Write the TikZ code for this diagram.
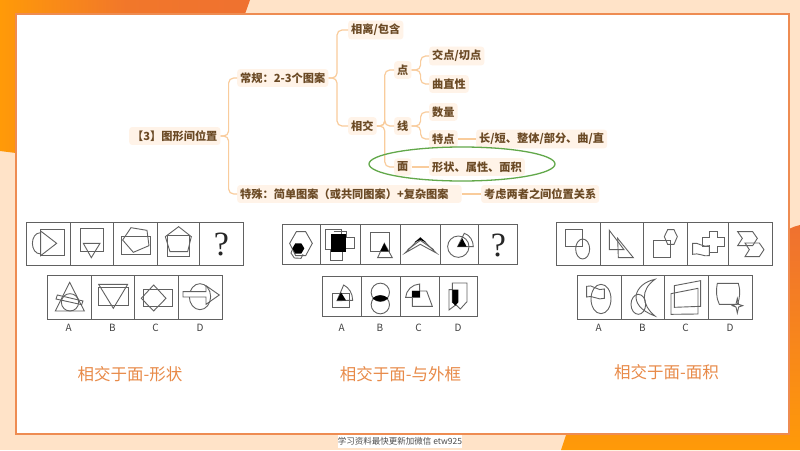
\documentclass[tikz,border=0pt]{standalone}
\usepackage{fontspec}
\setmainfont{Noto Sans CJK SC}
\newfontfamily\figfont{Liberation Serif}
\usetikzlibrary{positioning}
\definecolor{peach}{HTML}{FFE3C8}
\definecolor{deeporange}{HTML}{EF7130}
\definecolor{brightorange}{HTML}{FF9A08}
\definecolor{rimorange}{HTML}{EE8C52}
\definecolor{mapink}{HTML}{6B4A25}
\definecolor{mapfill}{HTML}{FFF3E8}
\definecolor{mapline}{HTML}{F9CC9C}
\definecolor{ringgreen}{HTML}{62A84A}
\definecolor{captink}{HTML}{E88A48}
\tikzset{
  mapbox/.style={anchor=west,fill=mapfill,rounded corners=3pt,inner xsep=3pt,inner ysep=3.5pt,
    text=mapink,font=\fontsize{11.2}{13}\selectfont\bfseries},
  branch/.style={draw=mapline,line width=1.2pt,rounded corners=5pt},
  figline/.style={draw=black!62,line width=0.9pt},
  optlabel/.style={text=black!75,font=\fontsize{10}{12}\selectfont},
  capt/.style={text=captink,font=\fontsize{16.5}{18}\selectfont},
}
\begin{document}
\begin{tikzpicture}[x=1pt,y=-1pt]
\useasboundingbox (0,0) rectangle (800,450);

% frame
\fill[peach] (0,0) rectangle (800,450);
\shade[left color=brightorange,right color=deeporange,middle color=deeporange!85!brightorange]
  (0,0) -- (250,0) -- (245,14) -- (16,14) -- (16,153) -- (0,151) -- cycle;
\shade[top color=deeporange,bottom color=brightorange]
  (561,450) -- (566,435) -- (789,435) -- (789,229) .. controls (793,227) .. (800,225) -- (800,450) -- cycle;
\draw[rimorange,line width=1.5pt,fill=white] (16,14) rectangle (789,434);

% mind map
\node[mapbox] (root) at (129,136) {【3】图形间位置};
\node[mapbox] (regular) at (237,78) {常规：2-3个图案};
\node[mapbox] (special) at (237,194) {特殊：简单图案（或共同图案）+复杂图案\hspace*{10pt}};
\node[mapbox] (apart) at (348,30) {相离/包含};
\node[mapbox] (cross) at (348,126) {相交};
\node[mapbox] (dot) at (394,70) {点};
\node[mapbox] (edge) at (394,126) {线};
\node[mapbox] (face) at (394,167) {面};
\node[mapbox] (tangent) at (429,56) {交点/切点};
\node[mapbox] (curve) at (429,84) {曲直性};
\node[mapbox] (count) at (429,112) {数量};
\node[mapbox] (trait) at (429,139) {特点};
\node[mapbox] (traits) at (476,139) {长/短、整体/部分、曲/直};
\node[mapbox] (facekind) at (429,167) {形状、属性、面积};
\node[mapbox] (relation) at (481,194) {考虑两者之间位置关系};

\foreach \kid in {regular,special} \draw[branch] (root.east) -- ++(8,0) |- (\kid.west);
\foreach \kid in {apart,cross} \draw[branch] (regular.east) -- ++(8.5,0) |- (\kid.west);
\foreach \kid in {dot,edge,face} \draw[branch] (cross.east) -- ++(8,0) |- (\kid.west);
\foreach \kid in {tangent,curve} \draw[branch] (dot.east) -- ++(9,0) |- (\kid.west);
\foreach \kid in {count,trait} \draw[branch] (edge.east) -- ++(9,0) |- (\kid.west);
\draw[branch] (trait.east) -- (traits.west);
\draw[branch] (face.east) -- (facekind.west);
\draw[branch] (special.east) -- (relation.west);

\draw[ringgreen,line width=1.3pt] (462,164) ellipse [x radius=93,y radius=17];

% left puzzle
\begin{scope}[shift={(20,215)},x=0.3333pt,y=-0.3333pt]
\draw[figline] (18,22) rectangle (670,152);
\foreach \cut in {150,281,412,538} \draw[figline] (\cut,22) -- (\cut,152);
\draw[figline] (82,182) rectangle (606,314);
\foreach \cut in {213,344,475} \draw[figline] (\cut,182) -- (\cut,314);
\draw[figline] (62,53) .. controls (29,53) and (29,117) .. (62,117);
\draw[figline] (62,44) rectangle (132,122);
\draw[figline] (62,48) -- (110,85) -- (62,122) -- cycle;
\draw[figline] (181,40) rectangle (249,110);
\draw[figline] (190,85) -- (240,85) -- (214,128) -- cycle;
\draw[figline] (304,64) rectangle (392,118);
\draw[figline] (333,38) -- (381,46) -- (387,92) -- (340,112) -- (308,75) -- cycle;
\draw[figline] (476,35) -- (514,65) -- (503,110) -- (450,110) -- (436,65) -- cycle;
\draw[figline] (441,60) rectangle (508,124);
\node[text=black!85,font=\figfont\fontsize{34}{36}\selectfont] (mark) at (604,88) {?};
\draw[figline] (149,202) -- (193,288) -- (106,288) -- cycle;
\draw[figline] (150,262) circle [radius=26];
\draw[figline] (112,240) -- (189,258) -- (185,269) -- (108,252) -- cycle;
\draw[figline] (236,217) rectangle (325,270);
\draw[figline] (236,208) -- (323,208) -- (280,280) -- cycle;
\draw[figline] (371,222) rectangle (456,273);
\draw[figline] (401,210) -- (438,250) -- (401,288) -- (364,250) -- cycle;
\draw[figline] (540,245) ellipse [x radius=32,y radius=39];
\fill[white] (489,230) rectangle (558,246);
\draw[figline] (489,230) -- (558,230) -- (558,212) -- (598,240) -- (558,268) -- (558,246) -- (489,246) -- cycle;
\node[optlabel] (leftA) at (146,340) {A};
\node[optlabel] (leftB) at (277,340) {B};
\node[optlabel] (leftC) at (407,340) {C};
\node[optlabel] (leftD) at (540,339) {D};
\end{scope}

% middle puzzle
\begin{scope}[shift={(275,215)},x=0.3333pt,y=-0.3333pt]
\draw[figline] (22,29) rectangle (726,149);
\foreach \cut in {135,256,377,495,611} \draw[figline] (\cut,29) -- (\cut,149);
\draw[figline] (142,184) rectangle (608,304);
\foreach \cut in {260,376,492} \draw[figline] (\cut,184) -- (\cut,304);
\draw[figline] (64,50) -- (92,50) -- (112,85) -- (92,122) -- (62,122) -- (44,85) -- cycle;
\draw[figline] (52,104) -- (48,114) -- (58,129) -- (78,130) -- (84,118);
\fill[black] (52,100) -- (61,85) -- (79,85) -- (88,100) -- (79,116) -- (61,116) -- cycle;
\draw[figline] (152,42) rectangle (200,102);
\draw[figline] (176,48) -- (214,48) -- (214,66) -- (238,66) -- (238,100) -- (214,100);
\draw[figline] (167,105) rectangle (203,137);
\fill[black] (168,58) rectangle (213,110);
\draw[figline] (287,52) rectangle (343,108);
\draw[figline] (328,85) -- (352,128) -- (308,128) -- cycle;
\fill[black] (328,85) -- (340,108) -- (316,108) -- cycle;
\draw[figline] (390,114) -- (436,68) -- (484,114) -- (436,88) -- cycle;
\draw[figline] (398,104) -- (436,76) -- (476,104);
\fill[black] (418,82) -- (436,68) -- (454,82) -- (436,75) -- cycle;
\draw[figline] (550,95) circle [radius=32];
\draw[figline] (548,95) -- (568,55) .. controls (585,60) and (595,78) .. (595,95) -- cycle;
\fill[black] (562,70) -- (575,95) -- (548,95) -- cycle;
\node[text=black!85,font=\figfont\fontsize{34}{36}\selectfont] (markb) at (670,92) {?};
\draw[figline] (171,236) rectangle (222,277);
\draw[figline] (186,257) -- (206,210) .. controls (222,218) and (233,235) .. (233,256) -- cycle;
\fill[black] (198,232) -- (213,256) -- (186,256) -- cycle;
\draw[figline] (316,232) circle [radius=27.5];
\draw[figline] (316,269) circle [radius=27.5];
\fill[black] (292,250) .. controls (305,238) and (327,238) .. (340,250) .. controls (327,262) and (305,262) .. (292,250) -- cycle;
\draw[figline] (392,247) .. controls (393,226) and (412,208) .. (434,207) -- (434,247) -- cycle;
\draw[figline] (412,228) -- (455,228) -- (472,274) -- (412,274) -- cycle;
\fill[black] (412,228) rectangle (434,247);
\draw[figline] (532,204) -- (576,204) -- (576,260) -- (556,282) -- (538,265) -- (532,262) -- cycle;
\draw[figline] (532,224) -- (522,224) -- (522,285) -- (542,270);
\fill[black] (532,224) -- (550,224) -- (550,262) -- (541,272) -- (532,262) -- cycle;
\node[optlabel] (midA) at (200,340) {A};
\node[optlabel] (midB) at (315,340) {B};
\node[optlabel] (midC) at (431,340) {C};
\node[optlabel] (midD) at (549,340) {D};
\end{scope}

% right puzzle
\begin{scope}[shift={(550,215)},x=0.3333pt,y=-0.3333pt]
\draw[figline] (19,22) rectangle (668,152);
\foreach \cut in {150,281,412,536} \draw[figline] (\cut,22) -- (\cut,152);
\draw[figline] (82,182) rectangle (606,314);
\foreach \cut in {213,344,474} \draw[figline] (\cut,182) -- (\cut,314);
\draw[figline] (47,43) rectangle (97,93);
\draw[figline] (98,102) ellipse [x radius=21,y radius=30];
\draw[figline] (178,46) -- (178,104) -- (222,104) -- cycle;
\draw[figline] (203,70) -- (250,128) -- (205,128) -- cycle;
\draw[figline] (311,75) rectangle (362,127);
\draw[figline] (353,44) -- (372,44) -- (382,65) -- (372,88) -- (353,88) -- (343,65) -- cycle;
\draw[figline] (478,50) -- (503,50) -- (503,68) -- (522,68) -- (522,95) -- (503,95) -- (503,112) -- (478,112) -- (478,95) -- (458,95) -- (458,68) -- (478,68) -- cycle;
\draw[figline] (428,85) .. controls (445,80) and (460,100) .. (478,92) -- (478,122) .. controls (460,126) and (445,112) .. (428,118) -- cycle;
\draw[figline] (563,50) -- (608,50) -- (622,70) -- (608,92) -- (563,92) -- (577,70) -- cycle;
\draw[figline] (585,84) -- (628,84) -- (642,104) -- (628,125) -- (585,125) -- (598,104) -- cycle;
\draw[figline] (153,252) ellipse [x radius=30,y radius=44];
\draw[figline] (110,214) .. controls (125,205) and (145,232) .. (163,222) -- (163,250) .. controls (145,258) and (125,238) .. (110,246) -- cycle;
\draw[figline] (315,193) .. controls (255,205) and (225,270) .. (315,303) .. controls (275,270) and (270,225) .. (315,193) -- cycle;
\draw[figline] (265,268) ellipse [x radius=22,y radius=30];
\draw[figline] (373,212) -- (452,197) -- (452,274) -- (373,277) -- cycle;
\draw[figline] (363,236) -- (444,220) -- (444,297) -- (363,298) -- cycle;
\draw[figline] (502,205) -- (565,205) .. controls (572,225) and (570,250) .. (562,268) -- (508,268) .. controls (498,248) and (498,225) .. (502,205) -- cycle;
\draw[figline] (562,250) -- (566,268) -- (578,272) -- (566,276) -- (562,294) -- (558,276) -- (547,272) -- (558,268) -- cycle;
\node[optlabel] (rightA) at (146,340) {A};
\node[optlabel] (rightB) at (277,340) {B};
\node[optlabel] (rightC) at (407,340) {C};
\node[optlabel] (rightD) at (540,339) {D};
\end{scope}

% captions
\node[capt] (captleft) at (130,374) {相交于面-形状};
\node[capt] (captmid) at (400.5,374) {相交于面-与外框};
\node[capt] (captright) at (666.5,372) {相交于面-面积};
\node[fill=white,text=black!70,inner sep=0pt,minimum width=124pt,minimum height=13pt,font=\fontsize{8.5}{10}\selectfont] (wechat) at (400,441.5) {学习资料最快更新加微信 etw925};

\end{tikzpicture}
\end{document}
